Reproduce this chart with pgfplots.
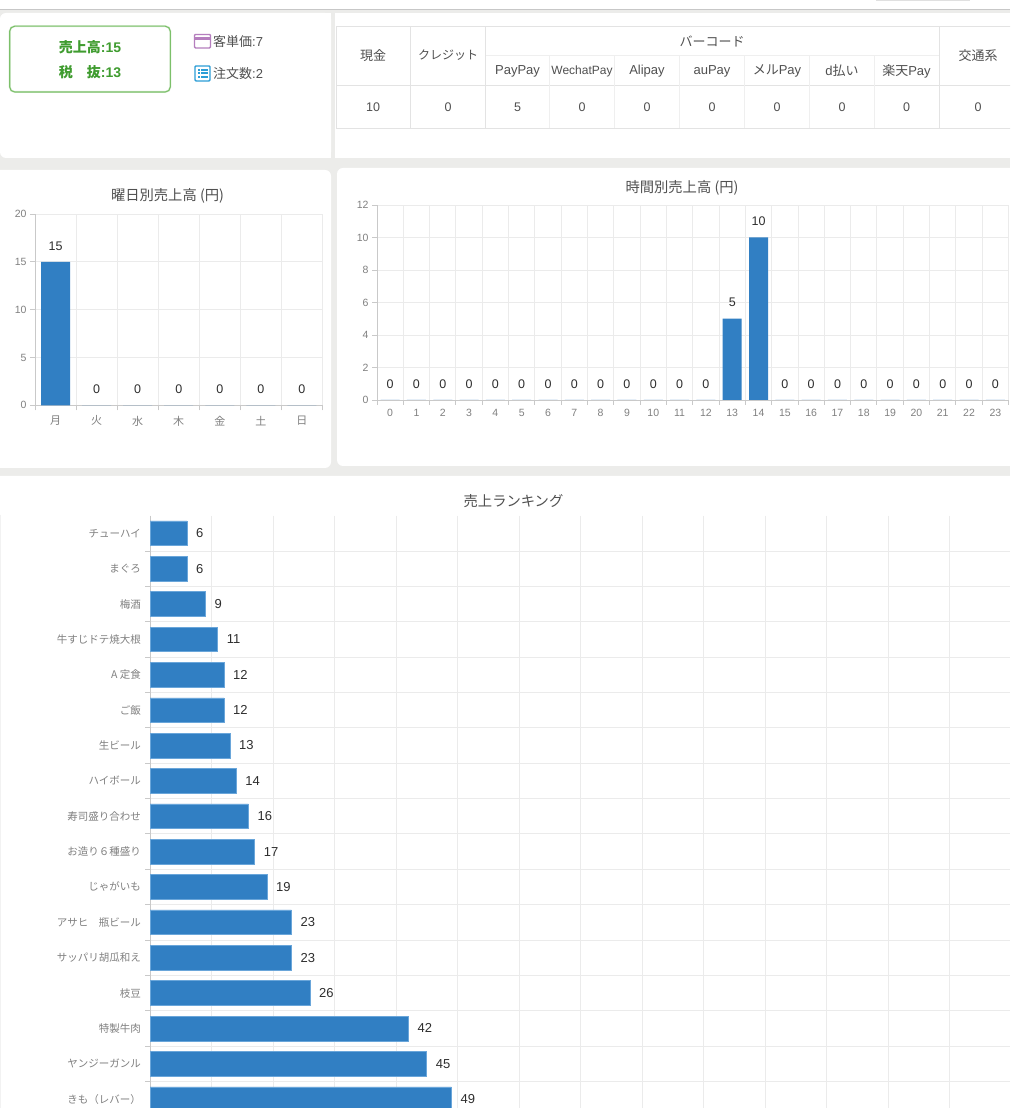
\documentclass[border=0pt]{standalone}
\usepackage{fontspec}
\setmainfont{Noto Sans CJK JP}
\newfontfamily\lat{Liberation Sans}
\usepackage{pgfplots}
\pgfplotsset{compat=1.18}
\definecolor{pagebg}{HTML}{ECECEA}
\definecolor{gridc}{HTML}{EBEBEB}
\definecolor{axisc}{HTML}{C9C9C9}
\definecolor{tickt}{HTML}{808080}
\definecolor{titlet}{HTML}{505050}
\definecolor{valt}{HTML}{2E2E2E}
\definecolor{barc}{HTML}{317FC3}
\definecolor{barl}{HTML}{6AA6DA}
\definecolor{greenb}{HTML}{7CC06A}
\definecolor{greent}{HTML}{3F9C2F}
\definecolor{purp}{HTML}{B57EBE}
\definecolor{bluei}{HTML}{2C9ED6}
\definecolor{tbl}{HTML}{E3E3E3}
\definecolor{tbli}{HTML}{EFEFEF}
\newcommand{\fs}[1]{\fontsize{#1}{#1}\selectfont}
\pgfplotsset{
  common/.style={
    scale only axis,
    anchor=south west,
    /pgf/number format/assume math mode=true,
    tick label style={font=\lat\fs{10.5},text=tickt},
    grid style={gridc,line width=0.9pt},
    axis line style={axisc,line width=0.9pt,-},
    tick style={axisc,line width=0.9pt},
    clip=false,
  },
  colchart/.style={
    common,
    ybar,
    axis x line*=bottom,
    axis y line*=left,
    ymajorgrids=true,
    xminorgrids=true,
    tick align=outside,
    major tick length=5pt,
    minor tick length=5pt,
    xtick style={draw=none},
    minor x tick style={axisc,line width=0.9pt,draw=axisc},
    ymin=0,
    enlargelimits=false,
    bar shift=0pt,
    nodes near coords,
    every node near coord/.append style={anchor=center,yshift=16pt,font=\lat\fs{12.5},text=valt,inner sep=0pt},
  },
}
\begin{document}
\begin{tikzpicture}[x=1pt,y=1pt]
\useasboundingbox (0,0) rectangle (1010,1108);
\clip (0,0) rectangle (1010,1108);
\begin{scope}[y=-1pt,yshift=1108pt]
% page and cards
\fill[pagebg] (0,0) rectangle (1010,1108);
\fill[white] (0,0) rectangle (1010,9);
\fill[black!22] (0,9) rectangle (1010,10.5);
\fill[black!12] (876,0) rectangle (970,1);
\fill[white,rounded corners=6pt] (0,13) rectangle (331,158);
\fill[white] (320,13) rectangle (331,158);
\fill[white] (335,13) rectangle (1020,158);
\fill[white,rounded corners=6pt] (-10,170) rectangle (331,468);
\fill[white,rounded corners=6pt] (337,168) rectangle (1020,466);
\fill[white,rounded corners=6pt] (-10,476) rectangle (1020,1130);
\draw[black!5,line width=0.8pt] (0.6,515) -- (0.6,1108);
% summary box
\draw[greenb!25,line width=2pt,rounded corners=5pt] (9.7,26.2) rectangle (170.3,92);
\draw[greenb,line width=1.1pt,rounded corners=5pt] (9.7,26.2) rectangle (170.3,92);
\node[font=\fs{14}\bfseries,text=greent] at (90,47) {売上高{\lat :15}};
\node[font=\fs{14}\bfseries,text=greent] at (90,72) {税　抜{\lat :13}};
% icons
\draw[purp,line width=1.4pt,rounded corners=1pt] (194.5,34.5) rectangle (210.5,48);
\fill[purp] (194.5,37.5) rectangle (210.5,40.5);
\draw[bluei,line width=1.4pt,rounded corners=1pt] (195,66) rectangle (210,81);
\foreach \yy in {70,73.5,77}{
  \fill[bluei] (197.6,\yy-1) rectangle (199.8,\yy+1);
  \fill[bluei] (201.2,\yy-1) rectangle (207.6,\yy+1);
}
\node[anchor=west,inner sep=0pt,font=\fs{13},text=titlet] at (213,41.5) {客単価{\lat :7}};
\node[anchor=west,inner sep=0pt,font=\fs{13},text=titlet] at (213,74) {注文数{\lat :2}};
% table
\draw[tbl,line width=0.9pt] (336,26.3) -- (1012,26.3);
\draw[tbl,line width=0.9pt] (336,85.5) -- (1012,85.5);
\draw[tbl,line width=0.9pt] (336,128.3) -- (1012,128.3);
\draw[tbli,line width=0.9pt] (485.7,55.5) -- (939,55.5);
\foreach \xx in {336,410.5,485.7,939}{\draw[tbl,line width=0.9pt] (\xx,26.3) -- (\xx,128.3);}
\foreach \xx in {549.3,614.5,679.5,744.4,809.6,874.5}{\draw[tbli,line width=0.9pt] (\xx,55.5) -- (\xx,128.3);}
\tikzset{tc/.style={font=\fs{13},text=titlet,inner sep=0pt},tn/.style={font=\lat\fs{12.5},text=titlet,inner sep=0pt}}
\node[tc] at (373,56) {現金};
\node[tc,font=\fs{12}] at (448,55) {クレジット};
\node[tc] at (712,41) {バーコード};
\node[tc] at (517.5,71) {\lat PayPay};
\node[tc,font=\fs{12}] at (582,71) {\lat WechatPay};
\node[tc] at (647,71) {\lat Alipay};
\node[tc] at (712,71) {\lat auPay};
\node[tc] at (777,71) {メル{\lat Pay}};
\node[tc] at (842,71) {{\lat d}払い};
\node[tc] at (906.5,71) {楽天{\lat Pay}};
\node[tc] at (978,56) {交通系};
\node[tn] at (373,107) {10};
\node[tn] at (448,107) {0};
\node[tn] at (517.5,107) {5};
\node[tn] at (582,107) {0};
\node[tn] at (647,107) {0};
\node[tn] at (712,107) {0};
\node[tn] at (777,107) {0};
\node[tn] at (842,107) {0};
\node[tn] at (906.5,107) {0};
\node[tn] at (978,107) {0};
% titles
\node[font=\fs{14.3},text=titlet,inner sep=0pt] at (167.5,195.5) {曜日別売上高 (円)};
\node[font=\fs{14.3},text=titlet,inner sep=0pt] at (682,188) {時間別売上高 (円)};
\node[font=\fs{14.3},text=titlet,inner sep=0pt] at (513.5,501) {売上ランキング};
\end{scope}
% weekday chart
\begin{axis}[colchart,
  at={(35pt,702.7pt)},
  width=287.5pt,height=191.3pt,
  xmin=0,xmax=7,ymax=20,
  ytick={0,5,10,15,20},
  xtick={0.5,1.5,2.5,3.5,4.5,5.5,6.5},
  xticklabels={月,火,水,木,金,土,日},
  minor xtick={0,1,2,3,4,5,6,7},
  xticklabel style={yshift=-2pt,font=\normalfont\fs{11}},
  bar width=29pt,
]
\addplot[draw=none,fill=barc] coordinates {(0.5,15)(1.5,0)(2.5,0)(3.5,0)(4.5,0)(5.5,0)(6.5,0)};
\end{axis}
% hourly chart
\begin{axis}[colchart,
  at={(377pt,708pt)},
  width=631.5pt,height=195pt,
  xmin=0,xmax=24,ymax=12,
  ytick={0,2,4,6,8,10,12},
  xtick={0.5,1.5,2.5,3.5,4.5,5.5,6.5,7.5,8.5,9.5,10.5,11.5,12.5,13.5,14.5,15.5,16.5,17.5,18.5,19.5,20.5,21.5,22.5,23.5},
  xticklabels={0,1,2,3,4,5,6,7,8,9,10,11,12,13,14,15,16,17,18,19,20,21,22,23},
  minor xtick={0,1,2,3,4,5,6,7,8,9,10,11,12,13,14,15,16,17,18,19,20,21,22,23,24},
  xticklabel style={yshift=-1pt},
  bar width=19pt,
]
\addplot[draw=none,fill=barc] coordinates {
(0.5,0)(1.5,0)(2.5,0)(3.5,0)(4.5,0)(5.5,0)(6.5,0)(7.5,0)(8.5,0)(9.5,0)(10.5,0)(11.5,0)(12.5,0)
(13.5,5)(14.5,10)
(15.5,0)(16.5,0)(17.5,0)(18.5,0)(19.5,0)(20.5,0)(21.5,0)(22.5,0)(23.5,0)};
\end{axis}
% ranking chart
\begin{axis}[common,
  xbar,
  at={(150pt,0pt)},
  width=860pt,height=592.4pt,
  xmin=0,xmax=139.84,
  ymin=-0.5,ymax=16.25,
  y dir=reverse,
  bar shift=0pt,
  bar width=24.7pt,
  axis x line*=bottom,
  axis y line*=left,
  x axis line style={draw=none},
  xtick={10,20,30,40,50,60,70,80,90,100,110,120,130},
  xticklabels={},
  ytick={0,1,2,3,4,5,6,7,8,9,10,11,12,13,14,15,16},
  yticklabels={チューハイ,まぐろ,梅酒,牛すじドテ焼大根,A 定食,ご飯,生ビール,ハイボール,寿司盛り合わせ,お造り６種盛り,じゃがいも,アサヒ　瓶ビール,サッパリ胡瓜和え,枝豆,特製牛肉,ヤンジーガンル,きも（レバー）},
  minor ytick={0.5,1.5,2.5,3.5,4.5,5.5,6.5,7.5,8.5,9.5,10.5,11.5,12.5,13.5,14.5,15.5},
  xmajorgrids=true,
  yminorgrids=true,
  tick align=outside,
  major tick length=0pt,
  minor tick length=5pt,
  ytick style={draw=none},
  xtick style={draw=none},
  minor y tick style={axisc,line width=0.9pt,draw=axisc},
  yticklabel style={inner sep=0pt,xshift=-9pt,font=\normalfont\fs{10.5},text=tickt},
  nodes near coords,
  every node near coord/.append style={anchor=west,xshift=9pt,font=\lat\fs{13},text=valt,inner sep=0pt},
]
\addplot[draw=barl,fill=barc,line width=0.5pt] coordinates {
(6,0)(6,1)(9,2)(11,3)(12,4)(12,5)(13,6)(14,7)(16,8)(17,9)(19,10)(23,11)(23,12)(26,13)(42,14)(45,15)(49,16)};
\end{axis}
\end{tikzpicture}
\end{document}
